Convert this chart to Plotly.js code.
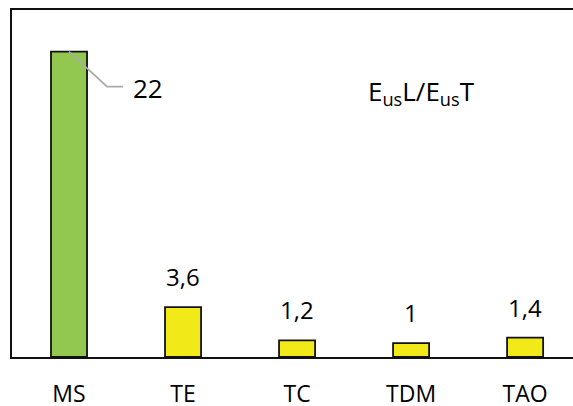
<!DOCTYPE html>
<html>
<head>
<meta charset="utf-8">
<script src="https://cdn.plot.ly/plotly-3.0.1.min.js"></script>
<style>html,body{margin:0;padding:0;background:#fff;}#chart{width:573px;height:406px;}</style>
</head>
<body>
<div id="chart"></div>
<script>
const categories = ["MS", "TE", "TC", "TDM", "TAO"];
const values = [22, 3.6, 1.2, 1, 1.4];
const valueLabels = ["22", "3,6", "1,2", "1", "1,4"];
const barColors = ["#92c850", "#f2ea18", "#f2ea18", "#f2ea18", "#f2ea18"];
const chartTitle = "E<sub>us</sub>L/E<sub>us</sub>T";

const FONT = "Open Sans, sans-serif";

const trace = {
  type: "bar",
  x: categories,
  y: values,
  marker: { color: barColors, line: { color: "#111", width: 1.8 } },
  hoverinfo: "none"
};

const annotations = [];
values.forEach((v, i) => {
  if (i === 0) {
    annotations.push({
      x: categories[i], y: v, xref: "x", yref: "y",
      text: valueLabels[i], showarrow: false,
      xanchor: "left", yanchor: "middle",
      xshift: 62, yshift: -36,
      font: { family: FONT, size: 26, color: "#000" }
    });
  } else {
    annotations.push({
      x: categories[i], y: v, xref: "x", yref: "y",
      text: valueLabels[i], showarrow: false,
      xanchor: "center", yanchor: "bottom",
      yshift: 12,
      font: { family: FONT, size: 24, color: "#000" }
    });
  }
});
annotations.push({
  x: 0.73, y: 0.764, xref: "paper", yref: "paper",
  text: chartTitle, showarrow: false,
  xanchor: "center", yanchor: "middle",
  font: { family: FONT, size: 26, color: "#000" }
});

const shapes = [{
  type: "path",
  xref: "x", yref: "y",
  xsizemode: "pixel", ysizemode: "pixel",
  xanchor: 0, yanchor: values[0],
  path: "M0,0 L38,-35 L54,-35",
  line: { color: "#aaaaaa", width: 1.8 }
}];

const layout = {
  width: 573, height: 406,
  margin: { l: 12, r: 0, t: 10, b: 49 },
  paper_bgcolor: "#fff", plot_bgcolor: "#fff",
  showlegend: false,
  bargap: 0.684,
  xaxis: {
    type: "category",
    range: [-0.5, 4.42],
    showline: true, mirror: true, linecolor: "#111", linewidth: 2,
    ticks: "", showgrid: false, zeroline: false,
    ticklabelstandoff: 15,
    tickfont: { family: FONT, size: 23, color: "#000" },
    fixedrange: true
  },
  yaxis: {
    range: [0, 25],
    showline: true, linecolor: "#111", linewidth: 2,
    showticklabels: false, ticks: "", showgrid: false, zeroline: false,
    fixedrange: true
  },
  annotations: annotations,
  shapes: shapes
};

Plotly.newPlot("chart", [trace], layout, { staticPlot: true, displayModeBar: false });
</script>
</body>
</html>
